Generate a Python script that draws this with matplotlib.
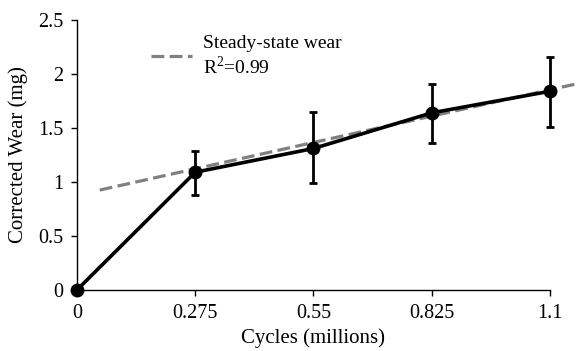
import matplotlib
matplotlib.use("Agg")
import matplotlib.pyplot as plt

# --- dati ---
cycles = [0, 0.275, 0.55, 0.825, 1.1]
wear = [0, 1.09, 1.31, 1.64, 1.84]
err_low = [0, 0.21, 0.32, 0.28, 0.33]
err_high = [0, 0.20, 0.34, 0.27, 0.32]

trend_x = [0.053, 1.16]
trend_y = [0.925, 1.907]
trend_label = "Steady-state wear\nR$^2$=0.99"

xticks = [0, 0.275, 0.55, 0.825, 1.1]
xticklabels = ["0", "0.275", "0.55", "0.825", "1.1"]
yticks = [0, 0.5, 1, 1.5, 2, 2.5]
yticklabels = ["0", "0.5", "1", "1.5", "2", "2.5"]

plt.rcParams["font.family"] = ["Liberation Serif", "DejaVu Serif"]
plt.rcParams["mathtext.fontset"] = "custom"
plt.rcParams["mathtext.rm"] = "Liberation Serif"

fig = plt.figure(figsize=(5.81, 3.51), dpi=100)
ax = fig.add_axes([0.1325, 0.174, 0.814, 0.769])

ax.plot(trend_x, trend_y, color="#808080", lw=2.3, ls=(0, (4, 1.7)),
        clip_on=False, zorder=2, label=trend_label)
ax.errorbar(cycles, wear, yerr=[err_low, err_high], color="black", lw=2.6,
            marker="o", ms=9, elinewidth=2, capsize=3.2, capthick=2,
            clip_on=False, zorder=3)

ax.set_xlim(0, 1.1)
ax.set_ylim(0, 2.5)
ax.set_xticks(xticks)
ax.set_xticklabels(xticklabels)
ax.set_yticks(yticks)
ax.set_yticklabels(yticklabels)
ax.tick_params(labelsize=14.5, length=4, width=1, direction="out", pad=6)
for s in ["top", "right"]:
    ax.spines[s].set_visible(False)
for s in ["left", "bottom"]:
    ax.spines[s].set_linewidth(1)

ax.set_xlabel("Cycles (millions)", fontsize=15, labelpad=4)
ax.set_ylabel("Corrected Wear (mg)", fontsize=15, labelpad=7)

ax.legend(loc="upper left", bbox_to_anchor=(0.12, 1.01), frameon=False,
          fontsize=14, handlelength=2.1, handletextpad=0.55)

plt.savefig("out.png", dpi=100)
plt.close(fig)
